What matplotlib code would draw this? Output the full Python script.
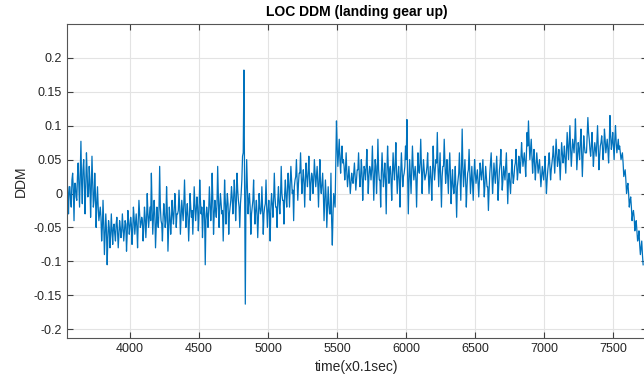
import matplotlib
matplotlib.use("Agg")
import matplotlib.pyplot as plt
import numpy as np

# time axis in 0.1 s units
t_step = 10

# DDM peaks/troughs, t = 3545, 3555, ... (one row per 200 units)
ddm_edge = [
    0.02, -0.03, 0.01, -0.02, 0.03, -0.04, 0.015, -0.01, 0.045, -0.02, 0.077, -0.015, 0.05, -0.03, 0.06, -0.005, 0.04, -0.035, 0.055, -0.02,
    0.03, -0.05, 0.01, -0.04, -0.02, -0.07, -0.01, -0.09, -0.03, -0.105, -0.04, -0.08, -0.03, -0.075, -0.045, -0.07, -0.035, -0.08, -0.04, -0.065,
    -0.03, -0.07, -0.04, -0.085, -0.025, -0.06, -0.035, -0.075, -0.02, -0.06, -0.03, -0.08, -0.01, -0.05, -0.035, -0.07, -0.02, -0.065, 0.0, -0.05,
    -0.02, 0.03, -0.06, -0.01, -0.08, -0.02, -0.05, 0.04, -0.04, -0.07, -0.015, -0.05, 0.01, -0.085, -0.02, -0.06, -0.01, -0.045, 0.0, -0.05,
    -0.03, 0.005, -0.06, -0.01, -0.04, 0.02, -0.05, -0.015, -0.07, 0.0, -0.035, -0.06, 0.01, -0.04, -0.005, -0.055, 0.02, -0.03, -0.065, -0.01,
    -0.105, -0.02, -0.05, 0.01, -0.04, 0.03, -0.06, -0.01, -0.035, 0.04, -0.05, 0.0, -0.03, -0.07, 0.02, -0.045, 0.0, -0.06, -0.02, 0.01,
    -0.03, 0.02, -0.04, 0.03, -0.01, -0.05, 0.0, 0.055, 0.182, -0.163, 0.05, -0.03, 0.0, -0.06, -0.02, 0.02, -0.045, -0.01, -0.065, 0.0,
    -0.03, 0.01, -0.06, -0.02, 0.02, -0.05, -0.01, -0.07, 0.0, -0.035, 0.03, -0.02, -0.05, 0.01, -0.03, 0.04, -0.01, -0.045, 0.02, -0.02,
    0.03, -0.02, 0.04, 0.0, -0.04, 0.02, 0.05, -0.01, 0.03, 0.06, 0.0, 0.035, -0.02, 0.045, 0.01, 0.055, -0.01, 0.03, 0.0, 0.05,
    0.01, 0.04, -0.02, 0.05, 0.0, 0.03, -0.04, 0.02, -0.05, 0.01, -0.03, 0.03, -0.076, 0.0, -0.02, 0.107, 0.04, 0.08, 0.03, 0.07,
    0.05, 0.02, 0.06, 0.01, 0.04, 0.0, 0.03, 0.015, 0.045, 0.005, 0.035, 0.06, 0.01, 0.05, -0.01, 0.04, 0.02, 0.065, 0.0, 0.04,
    0.02, 0.07, -0.01, 0.05, 0.0, 0.08, 0.02, -0.02, 0.06, 0.01, 0.045, -0.03, 0.07, 0.015, 0.04, -0.01, 0.06, 0.02, 0.075, 0.0,
    0.04, -0.02, 0.06, 0.01, 0.03, 0.07, 0.109, -0.03, 0.05, 0.0, 0.07, 0.02, 0.04, -0.02, 0.06, 0.03, 0.08, 0.0, 0.05, 0.02,
    0.03, 0.06, 0.0, 0.04, -0.01, 0.07, 0.02, 0.05, 0.09, 0.01, 0.06, -0.02, 0.04, 0.08, 0.015, 0.05, 0.0, 0.06, -0.015, 0.035,
    0.0, 0.04, -0.035, 0.02, 0.06, -0.01, 0.095, 0.01, 0.05, -0.02, 0.03, 0.065, 0.0, 0.04, -0.01, 0.05, 0.015, 0.035, -0.005, 0.045,
    0.02, 0.05, -0.005, 0.04, 0.01, -0.025, 0.03, 0.06, 0.0, 0.045, 0.015, 0.055, -0.01, 0.035, 0.065, 0.005, 0.04, 0.02, 0.06, -0.015,
    0.03, 0.0, 0.05, 0.015, 0.04, 0.065, 0.02, 0.055, 0.03, 0.075, 0.04, 0.06, 0.025, 0.09, 0.107, 0.05, 0.08, 0.03, 0.065, 0.02,
    0.06, 0.03, 0.05, 0.01, 0.04, 0.02, 0.055, 0.0, 0.035, 0.06, 0.02, 0.045, 0.07, 0.03, 0.08, 0.04, 0.065, 0.02, 0.075, 0.045,
    0.07, 0.03, 0.09, 0.05, 0.1, 0.04, 0.08, 0.06, 0.11, 0.035, 0.075, 0.05, 0.095, 0.025, 0.085, 0.06, 0.06, 0.112, 0.08, 0.055,
    0.09, 0.04, 0.075, 0.055, 0.1, 0.035, 0.07, 0.085, 0.05, 0.095, 0.06, 0.08, 0.045, 0.115, 0.065, 0.09, 0.05, 0.1, 0.06, 0.08,
    0.07, 0.05, 0.06, 0.025, 0.035, 0.0, 0.015, -0.02, -0.005, -0.04, -0.025, -0.055, -0.04, -0.07, -0.055, -0.09, -0.07, -0.105,
]

# DDM core band in between, t = 3550, 3560, ...
ddm_core = [
    0.0, 0.01, -0.01, 0.02, 0.005, 0.015, -0.005, 0.025, 0.01, 0.03, 0.015, 0.035, 0.02, 0.01, 0.03, 0.0, 0.02, 0.005, 0.015, -0.01,
    0.0, -0.015, -0.02, -0.03, -0.035, -0.05, -0.045, -0.06, -0.055, -0.065, -0.05, -0.06, -0.055, -0.05, -0.06, -0.045, -0.055, -0.06, -0.05, -0.055,
    -0.05, -0.055, -0.045, -0.06, -0.04, -0.05, -0.045, -0.055, -0.035, -0.045, -0.05, -0.04, -0.03, -0.045, -0.04, -0.05, -0.035, -0.04, -0.03, -0.035,
    -0.04, -0.02, -0.035, -0.03, -0.05, -0.04, -0.025, -0.02, -0.045, -0.035, -0.03, -0.04, -0.025, -0.05, -0.035, -0.04, -0.03, -0.025, -0.02, -0.03,
    -0.025, -0.02, -0.035, -0.025, -0.015, -0.02, -0.03, -0.035, -0.04, -0.02, -0.025, -0.03, -0.015, -0.025, -0.02, -0.03, -0.01, -0.02, -0.035, -0.03,
    -0.04, -0.03, -0.025, -0.015, -0.02, -0.01, -0.03, -0.025, -0.015, -0.005, -0.02, -0.015, -0.025, -0.03, -0.01, -0.02, -0.015, -0.03, -0.01, -0.005,
    -0.01, 0.0, -0.015, 0.005, -0.02, -0.015, 0.02, 0.06, 0.0, 0.0, 0.01, -0.01, -0.02, -0.03, -0.01, -0.02, -0.025, -0.03, -0.035, -0.02,
    -0.025, -0.02, -0.03, -0.015, -0.02, -0.025, -0.03, -0.02, -0.015, -0.01, -0.005, -0.02, -0.01, -0.015, -0.005, 0.0, -0.01, 0.0, -0.005, 0.005,
    0.01, 0.015, 0.02, 0.005, 0.01, 0.025, 0.02, 0.015, 0.03, 0.025, 0.02, 0.015, 0.02, 0.025, 0.03, 0.02, 0.015, 0.025, 0.02, 0.03,
    0.025, 0.015, 0.02, 0.01, 0.015, 0.0, -0.01, -0.005, -0.02, -0.015, -0.03, -0.04, -0.03, -0.01, 0.04, 0.07, 0.06, 0.05, 0.055, 0.045,
    0.04, 0.035, 0.03, 0.025, 0.02, 0.015, 0.02, 0.03, 0.025, 0.02, 0.035, 0.03, 0.025, 0.03, 0.02, 0.035, 0.04, 0.03, 0.025, 0.035,
    0.035, 0.03, 0.025, 0.04, 0.03, 0.035, 0.02, 0.03, 0.035, 0.025, 0.02, 0.03, 0.04, 0.035, 0.02, 0.03, 0.035, 0.045, 0.03, 0.025,
    0.02, 0.03, 0.035, 0.025, 0.04, 0.05, 0.03, 0.02, 0.025, 0.035, 0.04, 0.03, 0.02, 0.025, 0.035, 0.045, 0.04, 0.03, 0.035, 0.025,
    0.04, 0.03, 0.025, 0.02, 0.03, 0.04, 0.035, 0.045, 0.04, 0.035, 0.02, 0.025, 0.04, 0.045, 0.03, 0.025, 0.035, 0.03, 0.015, 0.01,
    0.015, 0.005, 0.01, 0.03, 0.025, 0.035, 0.04, 0.03, 0.02, 0.01, 0.035, 0.03, 0.02, 0.015, 0.025, 0.03, 0.025, 0.015, 0.02, 0.03,
    0.035, 0.02, 0.015, 0.025, 0.01, 0.005, 0.045, 0.03, 0.02, 0.03, 0.035, 0.025, 0.015, 0.045, 0.035, 0.02, 0.03, 0.04, 0.025, 0.02,
    0.015, 0.025, 0.03, 0.025, 0.045, 0.04, 0.035, 0.045, 0.05, 0.055, 0.05, 0.045, 0.06, 0.07, 0.075, 0.065, 0.055, 0.05, 0.04, 0.045,
    0.045, 0.04, 0.03, 0.025, 0.03, 0.035, 0.025, 0.02, 0.045, 0.04, 0.035, 0.055, 0.05, 0.055, 0.06, 0.05, 0.045, 0.05, 0.06, 0.055,
    0.05, 0.06, 0.07, 0.075, 0.065, 0.06, 0.07, 0.08, 0.07, 0.055, 0.065, 0.075, 0.06, 0.055, 0.07, 0.06, 0.085, 0.09, 0.065, 0.07,
    0.065, 0.06, 0.065, 0.075, 0.07, 0.055, 0.075, 0.07, 0.065, 0.08, 0.07, 0.065, 0.075, 0.085, 0.075, 0.07, 0.08, 0.075, 0.07, 0.065,
    0.06, 0.055, 0.045, 0.03, 0.02, 0.01, 0.0, -0.01, -0.02, -0.03, -0.035, -0.045, -0.055, -0.065, -0.075, -0.08, -0.09,
]

t_edge = 3545 + t_step * np.arange(len(ddm_edge))
t_core = 3550 + t_step * np.arange(len(ddm_core))
time = np.concatenate([t_edge, t_core])
ddm = np.concatenate([ddm_edge, ddm_core])
order = np.argsort(time)
time, ddm = time[order], ddm[order]

y_ticks = [-0.2, -0.15, -0.1, -0.05, 0, 0.05, 0.1, 0.15, 0.2]
x_ticks = [4000, 4500, 5000, 5500, 6000, 6500, 7000, 7500]

plt.rcParams['font.family'] = ['Liberation Sans', 'DejaVu Sans']
plt.rcParams['axes.unicode_minus'] = False

fig = plt.figure(figsize=(6.44, 3.79), dpi=100)
ax = fig.add_axes([0.104, 0.108, 0.9, 0.829])

ax.plot(time, ddm, color='#0072BD', lw=0.9)

ax.set_xlim(3544, 7740)
ax.set_ylim(-0.213, 0.25)
ax.set_xticks(x_ticks)
ax.set_yticks(y_ticks)
ax.set_yticklabels([f'{v:g}' for v in y_ticks])
ax.grid(True, color='#e3e3e3', lw=0.8)
ax.set_axisbelow(True)

ax.tick_params(direction='in', top=True, right=True, length=4, labelsize=9,
               color='#404040', labelcolor='#262626')
for s in ax.spines.values():
    s.set_color('#555555')
    s.set_linewidth(0.8)

ax.set_title('LOC DDM (landing gear up)', fontsize=10, fontweight='bold', pad=6)
ax.set_xlabel('time(x0.1sec)', fontsize=10, color='#262626')
ax.set_ylabel('DDM', fontsize=10, color='#262626')

fig.savefig('out.png', dpi=100)
